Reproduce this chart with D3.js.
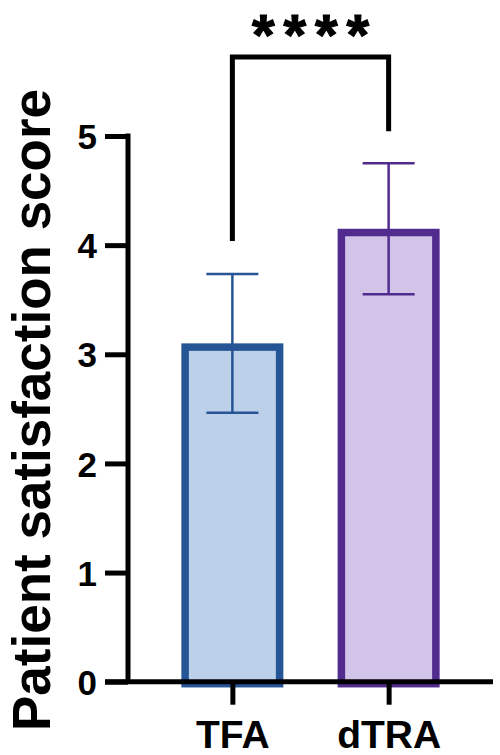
<!DOCTYPE html>
<html>
<head>
<meta charset="utf-8">
<script src="https://cdn.jsdelivr.net/npm/d3@7"></script>
<style>
  html, body { margin: 0; padding: 0; background: #fff; }
  svg { display: block; }
  text { font-family: "Liberation Sans", Arial, sans-serif; font-weight: bold; fill: #000; }
</style>
</head>
<body>
<svg id="chart" width="500" height="755"></svg>
<script>
// ---- data ----
const categories = ["TFA", "dTRA"];
const means = [3.10, 4.15];
const sds = [0.635, 0.60];
const yTicks = [0, 1, 2, 3, 4, 5];
const strokeColors = ["#265596", "#512b8e"];
const fillColors = ["#bdd0ea", "#d1c4e8"];
const significance = "****";
const yTitle = "Patient satisfaction score";

// ---- layout ----
const svg = d3.select("#chart");
const axisX = 128, plotRight = 493;
const y = d3.scaleLinear().domain([0, 5]).range([681.7, 136]);
const x = d3.scalePoint().domain(categories).range([axisX, plotRight]).padding(0.668);
const barW = 102, barStroke = 7.5, axisW = 5;

// bars
const bars = svg.append("g");
categories.forEach((c, i) => {
  const cx = x(c);
  bars.append("rect")
    .attr("x", cx - barW / 2 + barStroke / 2)
    .attr("y", y(means[i]) + barStroke / 2)
    .attr("width", barW - barStroke)
    .attr("height", y(0) - y(means[i]) - barStroke / 2 + 2)
    .attr("fill", fillColors[i])
    .attr("stroke", strokeColors[i])
    .attr("stroke-width", barStroke);
});

// error bars
const err = svg.append("g");
const capW = 52;
categories.forEach((c, i) => {
  const cx = x(c);
  const hi = y(means[i] + sds[i]), lo = y(means[i] - sds[i]);
  const col = strokeColors[i];
  err.append("line").attr("x1", cx).attr("x2", cx).attr("y1", hi).attr("y2", lo)
    .attr("stroke", col).attr("stroke-width", 2.5);
  [hi, lo].forEach(yy => {
    err.append("line").attr("x1", cx - capW / 2).attr("x2", cx + capW / 2)
      .attr("y1", yy).attr("y2", yy).attr("stroke", col).attr("stroke-width", 2.5);
  });
});

// y axis
const yAxis = d3.axisLeft(y).tickValues(yTicks).tickFormat(d3.format("d"))
  .tickSize(23).tickPadding(8);
const gy = svg.append("g").attr("transform", `translate(${axisX},0)`).call(yAxis);
gy.select(".domain").remove();
gy.append("line").attr("x1", 0).attr("x2", 0).attr("y1", y(5) - axisW / 2).attr("y2", y(0))
  .attr("stroke", "#000").attr("stroke-width", axisW);
gy.selectAll(".tick line").attr("stroke", "#000").attr("stroke-width", axisW);
gy.selectAll(".tick text").attr("font-size", 35).attr("dy", "0.36em")
  .style("font-family", "'Liberation Sans', Arial, sans-serif").style("font-weight", "bold");

// x axis
const xAxis = d3.axisBottom(x).tickSize(23).tickPadding(16);
const gx = svg.append("g").attr("transform", `translate(0,${y(0)})`).call(xAxis);
gx.select(".domain").remove();
gx.append("line").attr("x1", 105).attr("x2", plotRight).attr("y1", 0).attr("y2", 0)
  .attr("stroke", "#000").attr("stroke-width", axisW);
gx.selectAll(".tick line").attr("stroke", "#000").attr("stroke-width", axisW);
gx.selectAll(".tick text").attr("font-size", 39).attr("dy", "0.71em")
  .style("font-family", "'Liberation Sans', Arial, sans-serif").style("font-weight", "bold");

// y title
svg.append("text")
  .attr("transform", `translate(50,410) rotate(-90)`)
  .attr("text-anchor", "middle")
  .attr("font-size", 53)
  .text(yTitle);

// significance bracket
const bracketY = 57;
const x1 = x(categories[0]), x2 = x(categories[1]);
const leftEnd = y(means[0] + sds[0]) - 33;
const rightEnd = y(means[1] + sds[1]) - 32;
svg.append("path")
  .attr("d", `M${x1},${leftEnd}V${bracketY}H${x2}V${rightEnd}`)
  .attr("fill", "none").attr("stroke", "#000").attr("stroke-width", 5)
  .attr("stroke-linejoin", "miter");

const starPitch = 31.5;
const starCenter = (x1 + x2) / 2;
significance.split("").forEach((s, i) => {
  svg.append("text")
    .attr("x", starCenter + (i - 1.5) * starPitch)
    .attr("y", 55)
    .attr("text-anchor", "middle")
    .attr("font-size", 58)
    .attr("stroke", "#000")
    .attr("stroke-width", 1.2)
    .text(s);
});
</script>
</body>
</html>
